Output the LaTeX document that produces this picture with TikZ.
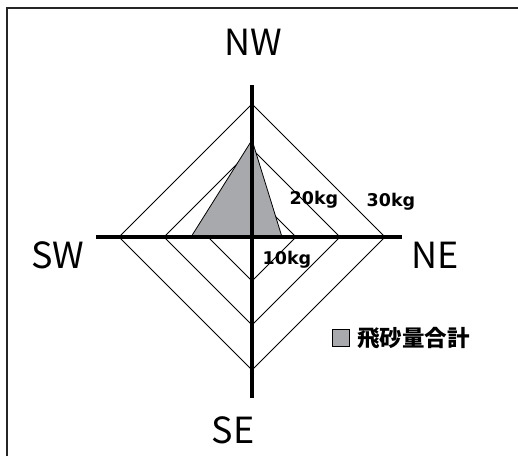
\documentclass[tikz,border=0pt]{standalone}
\usepackage{fontspec}
\setmainfont{Noto Sans CJK JP}
\newfontfamily\kgfont{DejaVu Sans}

\begin{document}
\begin{tikzpicture}[x=1pt, y=-1pt,
  axis/.style={line width=4pt},
  ring/.style={line width=0.8pt},
  dirlabel/.style={font=\fontsize{36}{36}\selectfont, inner sep=0pt},
  kglabel/.style={font=\kgfont\bfseries\fontsize{17.5}{17.5}\selectfont, inner sep=0pt},
  legendbox/.style={draw, fill=sandgray, line width=0.8pt, minimum size=17pt, inner sep=0pt}]
\definecolor{sandgray}{HTML}{A7A9AC}
\useasboundingbox (0,0) rectangle (518,456);
\draw[line width=2.5pt, black!85] (7,456) -- (7,8) -- (518,8);
% rings 10kg, 20kg, 30kg
\draw[ring] (252,193) -- (296,237) -- (252,281) -- (208,237) -- cycle;
\draw[ring] (252,149) -- (340,237) -- (252,325) -- (164,237) -- cycle;
\draw[ring] (252,104) -- (385,237) -- (252,370) -- (119,237) -- cycle;
% total
\coordinate (vNW) at (252,140);
\coordinate (vNE) at (282,237);
\coordinate (vSE) at (252,237);
\coordinate (vSW) at (191,237);
\draw[fill=sandgray, line width=0.8pt] (vNW) -- (vNE) -- (vSE) -- (vSW) -- cycle;
% axes
\coordinate (aN) at (252,85);
\coordinate (aS) at (252,398);
\coordinate (aW) at (96,237);
\coordinate (aE) at (402,237);
\draw[axis] (aN) -- (aS);
\draw[axis] (aW) -- (aE);
\node[dirlabel] (NW) at (253,42) {NW};
\node[dirlabel] (SW) at (58,255) {SW};
\node[dirlabel] (NE) at (435,255) {NE};
\node[dirlabel] (SE) at (233,430) {SE};
\node[kglabel] (k10) at (287,260) {10kg};
\node[kglabel] (k20) at (314,200) {20kg};
\node[kglabel] (k30) at (391,202) {30kg};
\node[legendbox] (key) at (341,338) {};
\node[font=\bfseries\fontsize{22.5}{22.5}\selectfont, inner sep=0pt, anchor=west] (keytext) at (357,338) {飛砂量合計};
%\draw (O) -- (vNW);
\end{tikzpicture}
\end{document}
